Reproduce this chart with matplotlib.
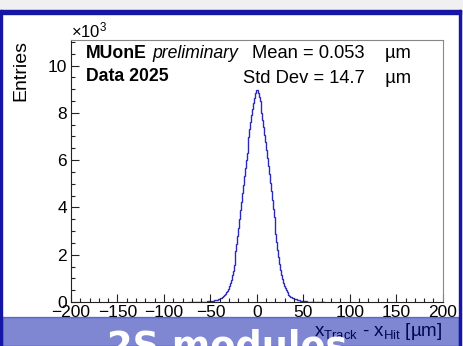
import matplotlib
matplotlib.use("Agg")
import matplotlib.pyplot as plt
from matplotlib.patches import Rectangle
from matplotlib.ticker import MultipleLocator, FuncFormatter

plt.rcParams['font.family'] = ['Liberation Sans', 'DejaVu Sans']
plt.rcParams['mathtext.fontset'] = 'custom'
plt.rcParams['mathtext.rm'] = 'Liberation Sans'
plt.rcParams['mathtext.it'] = 'Liberation Sans:italic'

# residual histogram, 1 um bins from -73 to 73
bin_edges = list(range(-73, 74))
entries_left = [1, 1, 2, 2, 3, 3, 4, 5, 6, 6,
                7, 8, 10, 11, 13, 14, 16, 18, 21, 23,
                26, 29, 33, 38, 43, 50, 58, 67, 78, 90,
                103, 118, 134, 152, 171, 192, 218, 250, 293, 345,
                408, 480, 570, 680, 805, 950, 1130, 1330, 1570, 1830,
                2140, 2460, 2800, 3150, 3510, 3870, 4240, 4600, 4960, 5320,
                5660, 5990, 6320, 6650, 6980, 7300, 7600, 7890, 8160, 8420,
                8630, 8820, 8960]
entries_right = [8980, 8840, 8690, 8490, 8250, 7980, 7690, 7390, 7080, 6750,
                 6420, 6080, 5740, 5400, 5050, 4680, 4310, 3940, 3580, 3220,
                 2870, 2520, 2190, 1890, 1610, 1370, 1150, 970, 820, 690,
                 580, 490, 415, 350, 300, 256, 222, 196, 174, 155,
                 138, 121, 106, 92, 80, 69, 59, 51, 44, 38,
                 33, 29, 25, 22, 19, 17, 15, 13, 12, 10,
                 9, 8, 7, 6, 5, 4, 4, 3, 3, 2,
                 2, 1, 1]
entries = entries_left + entries_right
mean_txt = "0.053"
std_txt = "14.7"

W, H = 463, 346
fig = plt.figure(figsize=(W / 100, H / 100), dpi=100)


def fx(x):
    return x / W


def fy(y):
    return 1 - y / H


ax = fig.add_axes([fx(71), fy(302), fx(442.7) - fx(71), fy(40) - fy(302)])
ax.stairs(entries, bin_edges, color='#2a2ab8', linewidth=1.0)
ax.set_xlim(-200, 200)
ax.set_ylim(0, 11080)

ax.xaxis.set_major_locator(MultipleLocator(50))
ax.xaxis.set_minor_locator(MultipleLocator(10))
ax.yaxis.set_major_locator(MultipleLocator(2000))
ax.yaxis.set_minor_locator(MultipleLocator(500))
ax.yaxis.set_major_formatter(FuncFormatter(lambda v, p: "%d" % round(v / 1000)))
ax.tick_params(which='both', direction='in', top=False, right=False,
               labelsize=12.5, width=0.8, color='#222222')
ax.tick_params(which='major', length=6)
ax.tick_params(which='minor', length=3)
ax.tick_params(axis='x', pad=2)
ax.tick_params(axis='y', pad=3)
for s in ['left', 'bottom']:
    ax.spines[s].set_color('#222222')
    ax.spines[s].set_linewidth(0.8)
for s in ['top', 'right']:
    ax.spines[s].set_color('#888888')
    ax.spines[s].set_linewidth(0.8)

fig.text(fx(71), fy(37), r'$\times$10$^{3}$', fontsize=12, ha='left', va='baseline')
fig.text(fx(21), fy(40), 'Entries', fontsize=14, rotation=90, ha='center', va='top')

fig.text(fx(86), fy(58), 'MUonE', fontsize=12.7, fontweight='bold', va='baseline')
fig.text(fx(152), fy(58), 'preliminary', fontsize=12.7, style='italic', va='baseline')
fig.text(fx(86), fy(81), 'Data 2025', fontsize=12.7, fontweight='bold', va='baseline')
fig.text(fx(411), fy(58), 'Mean = %s    \u00b5m' % mean_txt, fontsize=13.2,
         ha='right', va='baseline')
fig.text(fx(411), fy(83), 'Std Dev = %s    \u00b5m' % std_txt, fontsize=13.2,
         ha='right', va='baseline')

xlabel = r'x$_{\mathrm{Track}}$ - x$_{\mathrm{Hit}}$ [' + '\u00b5m]'
fig.text(fx(442), fy(336), xlabel, fontsize=13.5, ha='right', va='baseline')

# slide decorations: grey strip, blue frame, translucent banner
fig.add_artist(Rectangle((0, fy(10)), 1, 1 - fy(10), transform=fig.transFigure,
                         color='#f0f0f0', zorder=5))
fig.add_artist(Rectangle((fx(460), 0), 1 - fx(460), fy(10), transform=fig.transFigure,
                         color='#f0f0f0', zorder=5))
fig.add_artist(Rectangle((0, 0), fx(2), fy(10), transform=fig.transFigure,
                         color='#1616a6', zorder=6))
fig.add_artist(Rectangle((fx(459), 0), fx(2), fy(10), transform=fig.transFigure,
                         color='#1616a6', zorder=6))
fig.add_artist(Rectangle((0, fy(14)), fx(461), fy(10) - fy(14), transform=fig.transFigure,
                         color='#1616a6', zorder=6))
fig.add_artist(Rectangle((fx(2), 0), fx(459) - fx(2), fy(317), transform=fig.transFigure,
                         color='#0010a8', alpha=0.5, zorder=5))
fig.text(fx(227.5), fy(357), '2S modules', family='DejaVu Sans', fontweight='bold',
         fontsize=26.5, color='white', ha='center', va='baseline', zorder=7)

fig.savefig('out.png', dpi=100)
